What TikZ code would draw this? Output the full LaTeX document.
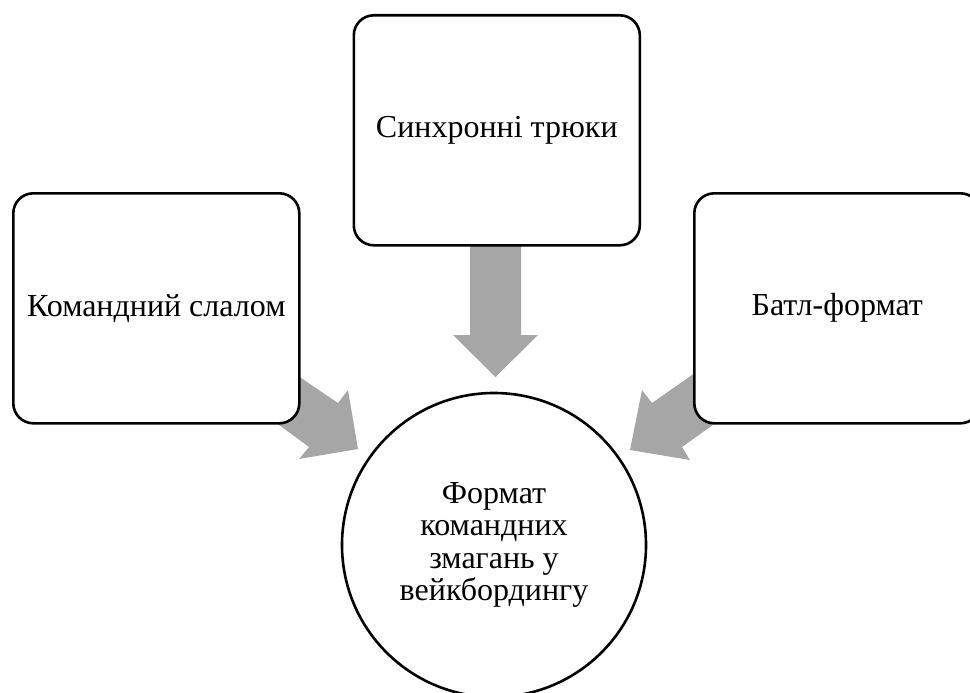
\documentclass[tikz,border=0pt]{standalone}
\usepackage{fontspec}
\setmainfont{Liberation Serif}
\begin{document}
\begin{tikzpicture}[x=1pt,y=-1pt,
  box/.style={draw=black, line width=2.6pt, fill=white, rounded corners=20pt,
    minimum width=286pt, minimum height=230pt, inner sep=0pt, anchor=north west,
    font=\fontsize{32}{32.5}\selectfont},
  circ/.style={draw=black, line width=2.6pt, fill=white, circle, minimum size=304pt,
    inner sep=0pt, align=center, font=\fontsize{32}{32.5}\selectfont},
  blockarrow/.style={fill=arrowgray, draw=none}]
\definecolor{arrowgray}{HTML}{A6A6A6}
\clip (0,0) rectangle (970,693);
\fill[white] (0,0) rectangle (970,693);
% block arrows
\fill[blockarrow] (470,230) -- (521,230) -- (521,335) -- (538,335) -- (495.5,377) -- (453,335) -- (470,335) -- cycle;
\fill[blockarrow] (270,357) -- (338,403) -- (348,390) -- (358,449) -- (299,459) -- (309,447) -- (248,402) -- cycle;
\fill[blockarrow] (722,354) -- (652,403) -- (642,390) -- (630,450) -- (690,460) -- (682,447) -- (745,402) -- cycle;
% boxes
\node[box] (top) at (352.5,14) {Синхронні трюки};
\node[box] (left) at (12,192) {Командний слалом};
\node[box] (right) at (693,192) {Батл-формат};
\node[circ] (center) at (494,545) {Формат\\командних\\змагань у\\вейкбордингу};
\end{tikzpicture}
\end{document}
